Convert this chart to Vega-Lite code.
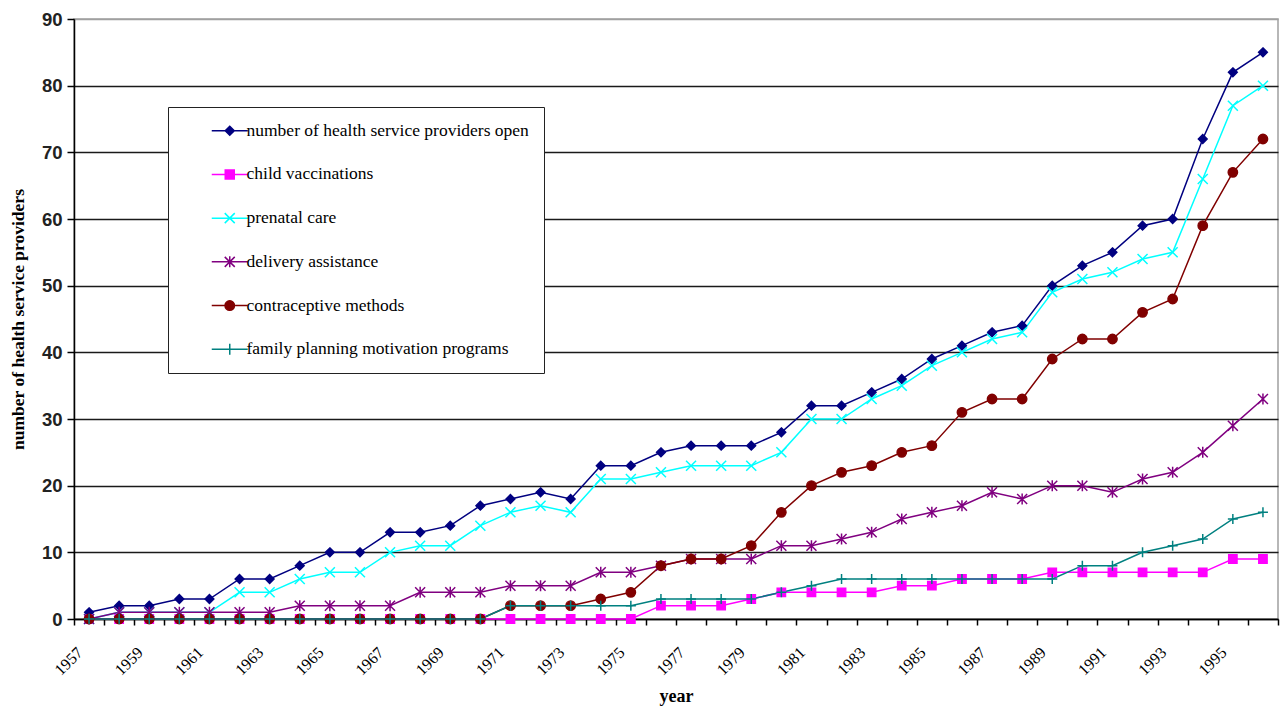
{
  "$schema": "https://vega.github.io/schema/vega-lite/v6.json",
  "width": 1204,
  "height": 600,
  "autosize": {"type": "none"},
  "padding": {"left": 74, "top": 19, "right": 3, "bottom": 89},
  "background": "white",
  "config": {"view": {"stroke": "#a0a0a0", "strokeWidth": 1.5}, "font": "Liberation Serif"},
  "datasets": {
    "d": [
      {"year":1957,"series":"number of health service providers open","value":1},
      {"year":1958,"series":"number of health service providers open","value":2},
      {"year":1959,"series":"number of health service providers open","value":2},
      {"year":1960,"series":"number of health service providers open","value":3},
      {"year":1961,"series":"number of health service providers open","value":3},
      {"year":1962,"series":"number of health service providers open","value":6},
      {"year":1963,"series":"number of health service providers open","value":6},
      {"year":1964,"series":"number of health service providers open","value":8},
      {"year":1965,"series":"number of health service providers open","value":10},
      {"year":1966,"series":"number of health service providers open","value":10},
      {"year":1967,"series":"number of health service providers open","value":13},
      {"year":1968,"series":"number of health service providers open","value":13},
      {"year":1969,"series":"number of health service providers open","value":14},
      {"year":1970,"series":"number of health service providers open","value":17},
      {"year":1971,"series":"number of health service providers open","value":18},
      {"year":1972,"series":"number of health service providers open","value":19},
      {"year":1973,"series":"number of health service providers open","value":18},
      {"year":1974,"series":"number of health service providers open","value":23},
      {"year":1975,"series":"number of health service providers open","value":23},
      {"year":1976,"series":"number of health service providers open","value":25},
      {"year":1977,"series":"number of health service providers open","value":26},
      {"year":1978,"series":"number of health service providers open","value":26},
      {"year":1979,"series":"number of health service providers open","value":26},
      {"year":1980,"series":"number of health service providers open","value":28},
      {"year":1981,"series":"number of health service providers open","value":32},
      {"year":1982,"series":"number of health service providers open","value":32},
      {"year":1983,"series":"number of health service providers open","value":34},
      {"year":1984,"series":"number of health service providers open","value":36},
      {"year":1985,"series":"number of health service providers open","value":39},
      {"year":1986,"series":"number of health service providers open","value":41},
      {"year":1987,"series":"number of health service providers open","value":43},
      {"year":1988,"series":"number of health service providers open","value":44},
      {"year":1989,"series":"number of health service providers open","value":50},
      {"year":1990,"series":"number of health service providers open","value":53},
      {"year":1991,"series":"number of health service providers open","value":55},
      {"year":1992,"series":"number of health service providers open","value":59},
      {"year":1993,"series":"number of health service providers open","value":60},
      {"year":1994,"series":"number of health service providers open","value":72},
      {"year":1995,"series":"number of health service providers open","value":82},
      {"year":1996,"series":"number of health service providers open","value":85},
      {"year":1957,"series":"child vaccinations","value":0},
      {"year":1958,"series":"child vaccinations","value":0},
      {"year":1959,"series":"child vaccinations","value":0},
      {"year":1960,"series":"child vaccinations","value":0},
      {"year":1961,"series":"child vaccinations","value":0},
      {"year":1962,"series":"child vaccinations","value":0},
      {"year":1963,"series":"child vaccinations","value":0},
      {"year":1964,"series":"child vaccinations","value":0},
      {"year":1965,"series":"child vaccinations","value":0},
      {"year":1966,"series":"child vaccinations","value":0},
      {"year":1967,"series":"child vaccinations","value":0},
      {"year":1968,"series":"child vaccinations","value":0},
      {"year":1969,"series":"child vaccinations","value":0},
      {"year":1970,"series":"child vaccinations","value":0},
      {"year":1971,"series":"child vaccinations","value":0},
      {"year":1972,"series":"child vaccinations","value":0},
      {"year":1973,"series":"child vaccinations","value":0},
      {"year":1974,"series":"child vaccinations","value":0},
      {"year":1975,"series":"child vaccinations","value":0},
      {"year":1976,"series":"child vaccinations","value":2},
      {"year":1977,"series":"child vaccinations","value":2},
      {"year":1978,"series":"child vaccinations","value":2},
      {"year":1979,"series":"child vaccinations","value":3},
      {"year":1980,"series":"child vaccinations","value":4},
      {"year":1981,"series":"child vaccinations","value":4},
      {"year":1982,"series":"child vaccinations","value":4},
      {"year":1983,"series":"child vaccinations","value":4},
      {"year":1984,"series":"child vaccinations","value":5},
      {"year":1985,"series":"child vaccinations","value":5},
      {"year":1986,"series":"child vaccinations","value":6},
      {"year":1987,"series":"child vaccinations","value":6},
      {"year":1988,"series":"child vaccinations","value":6},
      {"year":1989,"series":"child vaccinations","value":7},
      {"year":1990,"series":"child vaccinations","value":7},
      {"year":1991,"series":"child vaccinations","value":7},
      {"year":1992,"series":"child vaccinations","value":7},
      {"year":1993,"series":"child vaccinations","value":7},
      {"year":1994,"series":"child vaccinations","value":7},
      {"year":1995,"series":"child vaccinations","value":9},
      {"year":1996,"series":"child vaccinations","value":9},
      {"year":1957,"series":"prenatal care","value":0},
      {"year":1958,"series":"prenatal care","value":1},
      {"year":1959,"series":"prenatal care","value":1},
      {"year":1960,"series":"prenatal care","value":1},
      {"year":1961,"series":"prenatal care","value":1},
      {"year":1962,"series":"prenatal care","value":4},
      {"year":1963,"series":"prenatal care","value":4},
      {"year":1964,"series":"prenatal care","value":6},
      {"year":1965,"series":"prenatal care","value":7},
      {"year":1966,"series":"prenatal care","value":7},
      {"year":1967,"series":"prenatal care","value":10},
      {"year":1968,"series":"prenatal care","value":11},
      {"year":1969,"series":"prenatal care","value":11},
      {"year":1970,"series":"prenatal care","value":14},
      {"year":1971,"series":"prenatal care","value":16},
      {"year":1972,"series":"prenatal care","value":17},
      {"year":1973,"series":"prenatal care","value":16},
      {"year":1974,"series":"prenatal care","value":21},
      {"year":1975,"series":"prenatal care","value":21},
      {"year":1976,"series":"prenatal care","value":22},
      {"year":1977,"series":"prenatal care","value":23},
      {"year":1978,"series":"prenatal care","value":23},
      {"year":1979,"series":"prenatal care","value":23},
      {"year":1980,"series":"prenatal care","value":25},
      {"year":1981,"series":"prenatal care","value":30},
      {"year":1982,"series":"prenatal care","value":30},
      {"year":1983,"series":"prenatal care","value":33},
      {"year":1984,"series":"prenatal care","value":35},
      {"year":1985,"series":"prenatal care","value":38},
      {"year":1986,"series":"prenatal care","value":40},
      {"year":1987,"series":"prenatal care","value":42},
      {"year":1988,"series":"prenatal care","value":43},
      {"year":1989,"series":"prenatal care","value":49},
      {"year":1990,"series":"prenatal care","value":51},
      {"year":1991,"series":"prenatal care","value":52},
      {"year":1992,"series":"prenatal care","value":54},
      {"year":1993,"series":"prenatal care","value":55},
      {"year":1994,"series":"prenatal care","value":66},
      {"year":1995,"series":"prenatal care","value":77},
      {"year":1996,"series":"prenatal care","value":80},
      {"year":1957,"series":"delivery assistance","value":0},
      {"year":1958,"series":"delivery assistance","value":1},
      {"year":1959,"series":"delivery assistance","value":1},
      {"year":1960,"series":"delivery assistance","value":1},
      {"year":1961,"series":"delivery assistance","value":1},
      {"year":1962,"series":"delivery assistance","value":1},
      {"year":1963,"series":"delivery assistance","value":1},
      {"year":1964,"series":"delivery assistance","value":2},
      {"year":1965,"series":"delivery assistance","value":2},
      {"year":1966,"series":"delivery assistance","value":2},
      {"year":1967,"series":"delivery assistance","value":2},
      {"year":1968,"series":"delivery assistance","value":4},
      {"year":1969,"series":"delivery assistance","value":4},
      {"year":1970,"series":"delivery assistance","value":4},
      {"year":1971,"series":"delivery assistance","value":5},
      {"year":1972,"series":"delivery assistance","value":5},
      {"year":1973,"series":"delivery assistance","value":5},
      {"year":1974,"series":"delivery assistance","value":7},
      {"year":1975,"series":"delivery assistance","value":7},
      {"year":1976,"series":"delivery assistance","value":8},
      {"year":1977,"series":"delivery assistance","value":9},
      {"year":1978,"series":"delivery assistance","value":9},
      {"year":1979,"series":"delivery assistance","value":9},
      {"year":1980,"series":"delivery assistance","value":11},
      {"year":1981,"series":"delivery assistance","value":11},
      {"year":1982,"series":"delivery assistance","value":12},
      {"year":1983,"series":"delivery assistance","value":13},
      {"year":1984,"series":"delivery assistance","value":15},
      {"year":1985,"series":"delivery assistance","value":16},
      {"year":1986,"series":"delivery assistance","value":17},
      {"year":1987,"series":"delivery assistance","value":19},
      {"year":1988,"series":"delivery assistance","value":18},
      {"year":1989,"series":"delivery assistance","value":20},
      {"year":1990,"series":"delivery assistance","value":20},
      {"year":1991,"series":"delivery assistance","value":19},
      {"year":1992,"series":"delivery assistance","value":21},
      {"year":1993,"series":"delivery assistance","value":22},
      {"year":1994,"series":"delivery assistance","value":25},
      {"year":1995,"series":"delivery assistance","value":29},
      {"year":1996,"series":"delivery assistance","value":33},
      {"year":1957,"series":"contraceptive methods","value":0},
      {"year":1958,"series":"contraceptive methods","value":0},
      {"year":1959,"series":"contraceptive methods","value":0},
      {"year":1960,"series":"contraceptive methods","value":0},
      {"year":1961,"series":"contraceptive methods","value":0},
      {"year":1962,"series":"contraceptive methods","value":0},
      {"year":1963,"series":"contraceptive methods","value":0},
      {"year":1964,"series":"contraceptive methods","value":0},
      {"year":1965,"series":"contraceptive methods","value":0},
      {"year":1966,"series":"contraceptive methods","value":0},
      {"year":1967,"series":"contraceptive methods","value":0},
      {"year":1968,"series":"contraceptive methods","value":0},
      {"year":1969,"series":"contraceptive methods","value":0},
      {"year":1970,"series":"contraceptive methods","value":0},
      {"year":1971,"series":"contraceptive methods","value":2},
      {"year":1972,"series":"contraceptive methods","value":2},
      {"year":1973,"series":"contraceptive methods","value":2},
      {"year":1974,"series":"contraceptive methods","value":3},
      {"year":1975,"series":"contraceptive methods","value":4},
      {"year":1976,"series":"contraceptive methods","value":8},
      {"year":1977,"series":"contraceptive methods","value":9},
      {"year":1978,"series":"contraceptive methods","value":9},
      {"year":1979,"series":"contraceptive methods","value":11},
      {"year":1980,"series":"contraceptive methods","value":16},
      {"year":1981,"series":"contraceptive methods","value":20},
      {"year":1982,"series":"contraceptive methods","value":22},
      {"year":1983,"series":"contraceptive methods","value":23},
      {"year":1984,"series":"contraceptive methods","value":25},
      {"year":1985,"series":"contraceptive methods","value":26},
      {"year":1986,"series":"contraceptive methods","value":31},
      {"year":1987,"series":"contraceptive methods","value":33},
      {"year":1988,"series":"contraceptive methods","value":33},
      {"year":1989,"series":"contraceptive methods","value":39},
      {"year":1990,"series":"contraceptive methods","value":42},
      {"year":1991,"series":"contraceptive methods","value":42},
      {"year":1992,"series":"contraceptive methods","value":46},
      {"year":1993,"series":"contraceptive methods","value":48},
      {"year":1994,"series":"contraceptive methods","value":59},
      {"year":1995,"series":"contraceptive methods","value":67},
      {"year":1996,"series":"contraceptive methods","value":72},
      {"year":1957,"series":"family planning motivation programs","value":0},
      {"year":1958,"series":"family planning motivation programs","value":0},
      {"year":1959,"series":"family planning motivation programs","value":0},
      {"year":1960,"series":"family planning motivation programs","value":0},
      {"year":1961,"series":"family planning motivation programs","value":0},
      {"year":1962,"series":"family planning motivation programs","value":0},
      {"year":1963,"series":"family planning motivation programs","value":0},
      {"year":1964,"series":"family planning motivation programs","value":0},
      {"year":1965,"series":"family planning motivation programs","value":0},
      {"year":1966,"series":"family planning motivation programs","value":0},
      {"year":1967,"series":"family planning motivation programs","value":0},
      {"year":1968,"series":"family planning motivation programs","value":0},
      {"year":1969,"series":"family planning motivation programs","value":0},
      {"year":1970,"series":"family planning motivation programs","value":0},
      {"year":1971,"series":"family planning motivation programs","value":2},
      {"year":1972,"series":"family planning motivation programs","value":2},
      {"year":1973,"series":"family planning motivation programs","value":2},
      {"year":1974,"series":"family planning motivation programs","value":2},
      {"year":1975,"series":"family planning motivation programs","value":2},
      {"year":1976,"series":"family planning motivation programs","value":3},
      {"year":1977,"series":"family planning motivation programs","value":3},
      {"year":1978,"series":"family planning motivation programs","value":3},
      {"year":1979,"series":"family planning motivation programs","value":3},
      {"year":1980,"series":"family planning motivation programs","value":4},
      {"year":1981,"series":"family planning motivation programs","value":5},
      {"year":1982,"series":"family planning motivation programs","value":6},
      {"year":1983,"series":"family planning motivation programs","value":6},
      {"year":1984,"series":"family planning motivation programs","value":6},
      {"year":1985,"series":"family planning motivation programs","value":6},
      {"year":1986,"series":"family planning motivation programs","value":6},
      {"year":1987,"series":"family planning motivation programs","value":6},
      {"year":1988,"series":"family planning motivation programs","value":6},
      {"year":1989,"series":"family planning motivation programs","value":6},
      {"year":1990,"series":"family planning motivation programs","value":8},
      {"year":1991,"series":"family planning motivation programs","value":8},
      {"year":1992,"series":"family planning motivation programs","value":10},
      {"year":1993,"series":"family planning motivation programs","value":11},
      {"year":1994,"series":"family planning motivation programs","value":12},
      {"year":1995,"series":"family planning motivation programs","value":15},
      {"year":1996,"series":"family planning motivation programs","value":16}
    ]
  },
  "data": {"name": "d"},
  "encoding": {
    "x": {
      "field": "year", "type": "ordinal", "bandPosition": 0.5,
      "scale": {"type": "band", "paddingInner": 0, "paddingOuter": 0},
      "axis": {
        "title": "year", "titleFont": "Liberation Serif", "titleFontSize": 18, "titleFontWeight": "bold", "titleColor": "black", "titlePadding": 10,
        "labelAngle": -45, "labelFont": "Liberation Serif", "labelFontSize": 16, "labelColor": "black", "labelPadding": 19, "labelOffset": -15,
        "labelExpr": "(datum.value - 1957) % 2 == 0 ? datum.label : ''", "labelOverlap": false,
        "tickBand": "extent", "tickSize": 6, "tickColor": "black", "tickWidth": 1.5,
        "domainColor": "black", "domainWidth": 1.5, "grid": false
      }
    },
    "y": {
      "field": "value", "type": "quantitative",
      "scale": {"domain": [0, 90], "nice": false},
      "axis": {
        "title": "number of health service providers", "titleFont": "Liberation Serif", "titleFontSize": 17.5, "titleFontWeight": "bold", "titleColor": "black", "titlePadding": 14,
        "values": [0, 10, 20, 30, 40, 50, 60, 70, 80, 90],
        "labelFont": "Liberation Sans", "labelFontSize": 18.5, "labelFontWeight": "bold", "labelColor": "#222222", "labelPadding": 5,
        "tickSize": 7, "tickColor": "black", "tickWidth": 1.5,
        "domainColor": "black", "domainWidth": 1.5,
        "grid": true, "gridWidth": 1.3,
        "gridColor": {"condition": {"test": "datum.value == 90", "value": "#a0a0a0"}, "value": "#1a1a1a"}
      }
    }
  },
  "layer": [
    {
      "mark": {"type": "line", "strokeWidth": 1.5},
      "encoding": {
        "stroke": {
          "field": "series", "type": "nominal",
          "scale": {
            "domain": ["number of health service providers open", "child vaccinations", "prenatal care", "delivery assistance", "contraceptive methods", "family planning motivation programs"],
            "range": ["#000080", "#FF00FF", "#00FFFF", "#800080", "#800000", "#008080"]
          },
          "legend": {
            "orient": "none", "legendX": 94, "legendY": 88, "title": null,
            "padding": 15, "strokeColor": "#222222", "fillColor": "white",
            "labelFont": "Liberation Serif", "labelFontSize": 17.5, "labelColor": "black", "labelLimit": 500,
            "symbolSize": 100, "symbolStrokeWidth": 1.5, "symbolOffset": 38, "labelOffset": 8, "rowPadding": 24.7
          }
        }
      }
    },
    {
      "transform": [{"filter": "datum.series == 'number of health service providers open'"}],
      "mark": {"type": "point", "shape": "M0,-0.9L0.9,0L0,0.9L-0.9,0Z", "size": 100, "filled": true, "fill": "#000080", "stroke": "#000080", "strokeWidth": 1.3, "opacity": 1}
    },
    {
      "transform": [{"filter": "datum.series == 'child vaccinations'"}],
      "mark": {"type": "point", "shape": "M-0.85,-0.85H0.85V0.85H-0.85Z", "size": 100, "filled": true, "fill": "#FF00FF", "stroke": "#FF00FF", "strokeWidth": 1.3, "opacity": 1}
    },
    {
      "transform": [{"filter": "datum.series == 'prenatal care'"}],
      "mark": {"type": "point", "shape": "M-1,-1L1,1M-1,1L1,-1", "size": 100, "filled": false, "fill": "#00FFFF", "stroke": "#00FFFF", "strokeWidth": 1.5, "opacity": 1}
    },
    {
      "transform": [{"filter": "datum.series == 'delivery assistance'"}],
      "mark": {"type": "point", "shape": "M-1,-1L1,1M-1,1L1,-1M0,-1.1L0,1.1", "size": 100, "filled": false, "fill": "#800080", "stroke": "#800080", "strokeWidth": 1.5, "opacity": 1}
    },
    {
      "transform": [{"filter": "datum.series == 'contraceptive methods'"}],
      "mark": {"type": "point", "shape": "M0.95,0A0.95,0.95,0,1,1,-0.95,0A0.95,0.95,0,1,1,0.95,0Z", "size": 100, "filled": true, "fill": "#800000", "stroke": "#800000", "strokeWidth": 1.3, "opacity": 1}
    },
    {
      "transform": [{"filter": "datum.series == 'family planning motivation programs'"}],
      "mark": {"type": "point", "shape": "M-1,0H1M0,-1V1", "size": 100, "filled": false, "fill": "#008080", "stroke": "#008080", "strokeWidth": 1.5, "opacity": 1}
    },
    {
      "transform": [{"filter": "false"}],
      "mark": {"type": "point", "filled": true, "size": 100, "strokeWidth": 1.5, "opacity": 1},
      "encoding": {
        "fill": {
          "field": "series", "type": "nominal",
          "scale": {
            "domain": ["number of health service providers open", "child vaccinations", "prenatal care", "delivery assistance", "contraceptive methods", "family planning motivation programs"],
            "range": ["#000080", "#FF00FF", "#00FFFF", "#800080", "#800000", "#008080"]
          },
          "legend": {
            "orient": "none", "legendX": 94, "legendY": 88, "title": null,
            "padding": 15, "strokeColor": "#222222", "fillColor": "white",
            "labelFont": "Liberation Serif", "labelFontSize": 17.5, "labelColor": "black", "labelLimit": 500,
            "symbolSize": 100, "symbolStrokeWidth": 1.5, "symbolOffset": 38, "labelOffset": 8, "rowPadding": 24.7
          }
        },
        "stroke": {"field": "series", "type": "nominal"},
        "shape": {
          "field": "series", "type": "nominal",
          "scale": {
            "domain": ["number of health service providers open", "child vaccinations", "prenatal care", "delivery assistance", "contraceptive methods", "family planning motivation programs"],
            "range": [
              "M-3.6,0H3.6M0,-0.9L0.9,0L0,0.9L-0.9,0Z",
              "M-3.6,0H3.6M-0.9,-0.9H0.9V0.9H-0.9Z",
              "M-3.6,0H3.6M-1,-1L1,1M-1,1L1,-1",
              "M-3.6,0H3.6M-1,-1L1,1M-1,1L1,-1M0,-1.1L0,1.1",
              "M-3.6,0H3.6M0.95,0A0.95,0.95,0,1,1,-0.95,0A0.95,0.95,0,1,1,0.95,0Z",
              "M-3.6,0H3.6M0,-1.1V1.1"
            ]
          },
          "legend": {
            "orient": "none", "legendX": 94, "legendY": 88, "title": null,
            "padding": 15, "strokeColor": "#222222", "fillColor": "white",
            "labelFont": "Liberation Serif", "labelFontSize": 17.5, "labelColor": "black", "labelLimit": 500,
            "symbolSize": 100, "symbolStrokeWidth": 1.5, "symbolOffset": 38, "labelOffset": 8, "rowPadding": 24.7
          }
        }
      }
    }
  ]
}
